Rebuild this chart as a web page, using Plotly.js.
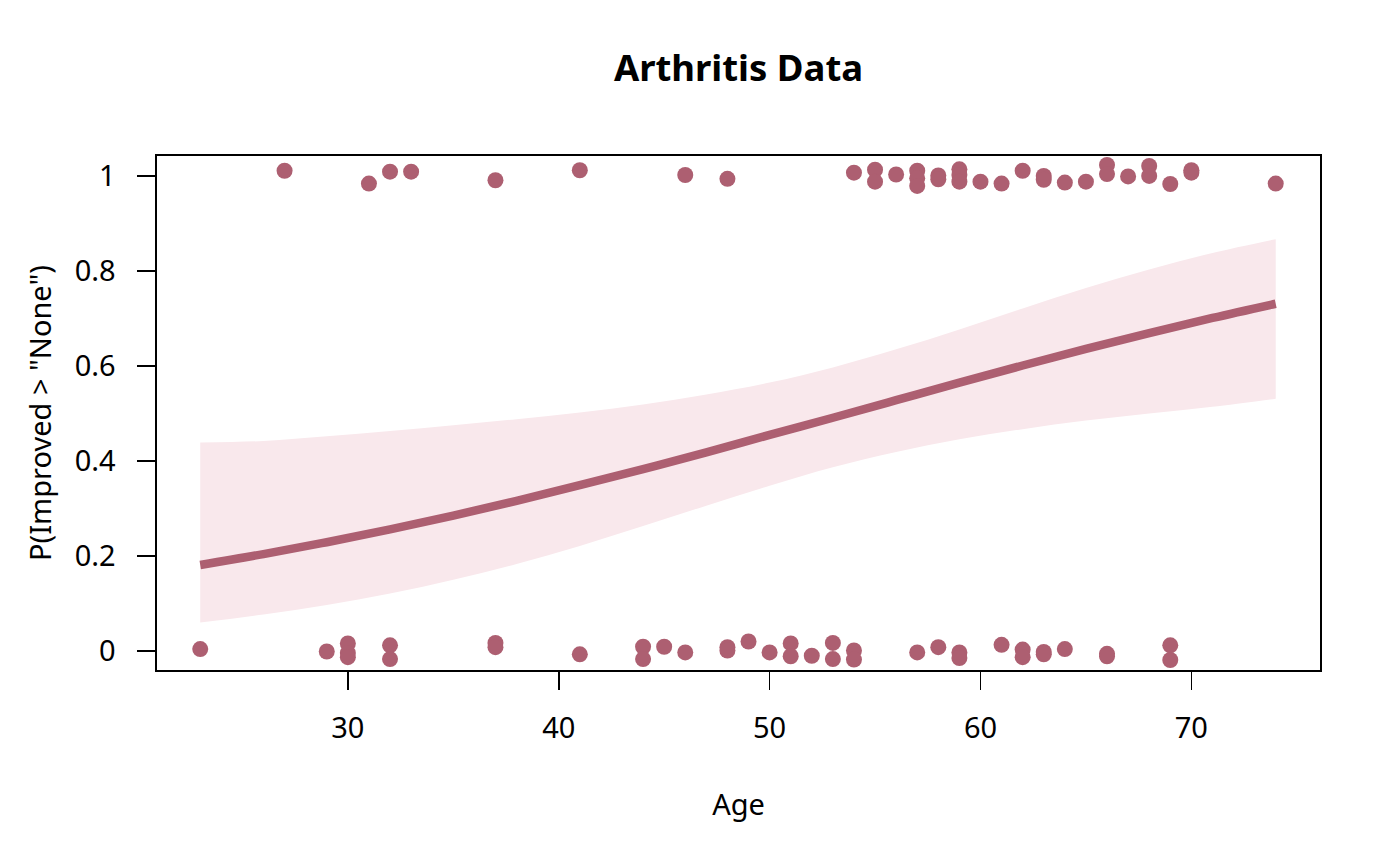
<!DOCTYPE html>
<html>
<head>
<meta charset="utf-8">
<script src="https://cdn.plot.ly/plotly-3.0.1.min.js"></script>
<style>html,body{margin:0;padding:0;background:#fff;}#chart{width:1400px;height:866px;}</style>
</head>
<body>
<div id="chart"></div>
<script>
// Observed outcomes (jittered around 0/1) by age
const improvedAge = [27,31,32,33,37,41,46,48,54,55,55,56,57,57,57,58,58,59,59,59,60,61,62,63,63,64,65,66,66,67,68,68,69,70,70,74];
const improvedY   = [1.011,0.984,1.009,1.009,0.991,1.012,1.002,0.994,1.007,1.013,0.988,1.003,1.011,0.995,0.979,1.001,0.993,1.014,1.002,0.988,0.988,0.984,1.011,1.000,0.992,0.986,0.988,1.023,1.004,0.999,1.021,1.000,0.983,1.012,1.007,0.984];
const noneAge = [23,29,30,30,30,32,32,37,37,41,44,44,45,46,48,48,49,50,51,51,52,53,53,54,54,57,58,59,59,61,62,62,63,63,64,66,66,69,69];
const noneY   = [0.004,-0.001,0.016,-0.004,-0.013,0.012,-0.017,0.017,0.008,-0.007,0.009,-0.017,0.009,-0.003,0.008,0.001,0.020,-0.003,0.016,-0.011,-0.010,0.017,-0.017,0.001,-0.018,-0.003,0.008,-0.003,-0.015,0.013,0.003,-0.013,-0.002,-0.007,0.004,-0.006,-0.011,0.012,-0.019];

// Fitted probability and confidence band
const fitAge  = [23,26,29,32,35,38,41,44,47,50,53,56,59,62,65,68,71,74];
const fitProb = [0.181,0.204,0.229,0.256,0.285,0.316,0.349,0.383,0.418,0.455,0.491,0.528,0.565,0.601,0.636,0.669,0.701,0.731];
const ciUpper = [0.439,0.442,0.452,0.463,0.475,0.488,0.502,0.519,0.540,0.565,0.597,0.635,0.677,0.721,0.764,0.803,0.838,0.867];
const ciLower = [0.060,0.077,0.097,0.121,0.150,0.183,0.221,0.263,0.306,0.348,0.387,0.419,0.446,0.467,0.485,0.500,0.514,0.531];

// Tick labels
const xTicks = [30,40,50,60,70];
const yTicks = [0,0.2,0.4,0.6,0.8,1];
const yTickText = ['0','0.2','0.4','0.6','0.8','1'];

const mainColor = '#AD5F71';
const bandColor = '#F9E8EC';

const traces = [
  {x: fitAge, y: ciLower, mode: 'lines', line: {width: 0, shape: 'spline', color: bandColor}, hoverinfo: 'skip', showlegend: false},
  {x: fitAge, y: ciUpper, mode: 'lines', fill: 'tonexty', fillcolor: bandColor, line: {width: 0, shape: 'spline', color: bandColor}, hoverinfo: 'skip', showlegend: false},
  {x: fitAge, y: fitProb, mode: 'lines', line: {width: 8.5, shape: 'spline', color: mainColor}, showlegend: false},
  {x: improvedAge, y: improvedY, mode: 'markers', marker: {size: 16, color: mainColor}, showlegend: false},
  {x: noneAge, y: noneY, mode: 'markers', marker: {size: 16, color: mainColor}, showlegend: false}
];

const fontFam = 'Noto Sans, Open Sans, sans-serif';
const layout = {
  width: 1400, height: 866,
  paper_bgcolor: '#fff', plot_bgcolor: '#fff',
  margin: {l: 157, r: 80, t: 156, b: 196},
  font: {family: fontFam, size: 29, color: '#000'},
  title: {text: '<b>Arthritis Data</b>', font: {family: fontFam, size: 36.5, color: '#000'}, x: 0.5, xref: 'paper', xanchor: 'center', y: 1 - 68/866, yref: 'container', yanchor: 'middle'},
  xaxis: {
    range: [20.95, 76.1], showgrid: false, zeroline: false,
    showline: true, mirror: true, linecolor: '#000', linewidth: 1.6,
    ticks: 'outside', ticklen: 18, tickwidth: 1.6, tickcolor: '#000',
    tickvals: xTicks, ticktext: xTicks.map(String), ticklabelstandoff: 14,
    tickfont: {size: 29},
    title: {text: 'Age', font: {size: 29}, standoff: 49}
  },
  yaxis: {
    range: [-0.04, 1.042], showgrid: false, zeroline: false,
    showline: true, mirror: true, linecolor: '#000', linewidth: 1.6,
    ticks: 'outside', ticklen: 18, tickwidth: 1.6, tickcolor: '#000',
    tickvals: yTicks, ticktext: yTickText, ticklabelstandoff: 16,
    tickfont: {size: 29},
    title: {text: 'P(Improved > "None")', font: {size: 29}, standoff: 14}
  }
};

Plotly.newPlot('chart', traces, layout, {staticPlot: true, displayModeBar: false});
</script>
</body>
</html>
